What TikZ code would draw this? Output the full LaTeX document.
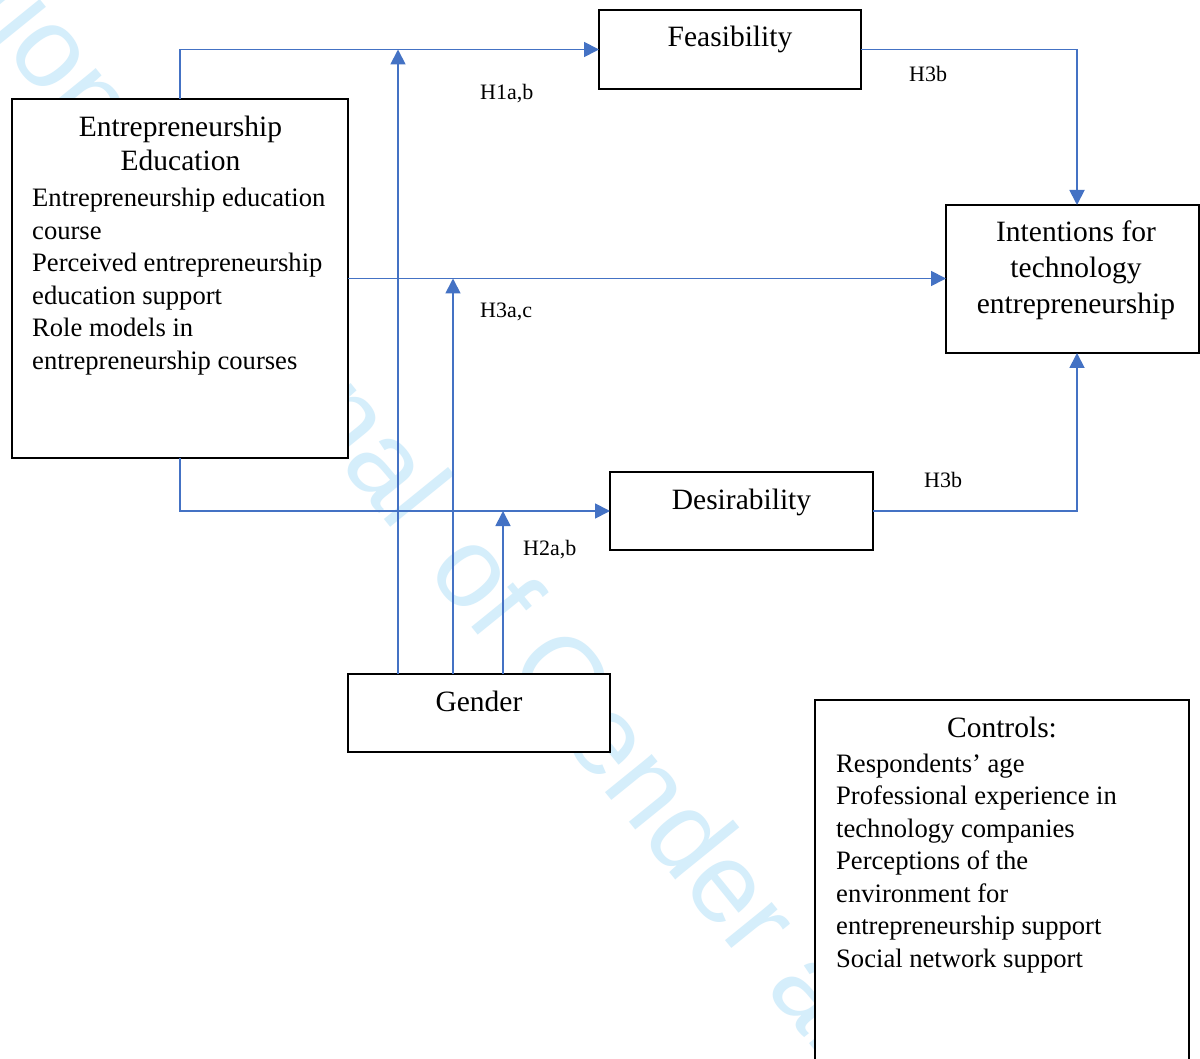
\documentclass[tikz,border=0pt]{standalone}
\usepackage{fontspec}
\setmainfont{Liberation Serif}
\newfontfamily\wmfont{Liberation Sans}
\usetikzlibrary{arrows.meta}
\definecolor{linkblue}{RGB}{68,114,196}
\definecolor{wmblue}{RGB}{213,238,251}
\tikzset{
  box/.style={draw=black, line width=2.6pt, fill=white, inner sep=0pt, outer sep=0pt},
  link/.style={draw=linkblue, line width=1.8pt, -{Triangle[length=15pt,width=15pt]}},
  ttl/.style={font=\fontsize{29.5}{36}\selectfont, inner sep=0pt, anchor=base},
  body/.style={font=\fontsize{26.6}{32.5}\selectfont, inner sep=0pt, anchor=base west},
  hyp/.style={font=\fontsize{22}{24}\selectfont, inner sep=0pt, anchor=base west},
  wm/.style={font=\wmfont\fontsize{114}{114}\selectfont, text=wmblue, inner sep=0pt, rotate=-51}
}
\begin{document}
\begin{tikzpicture}[x=1pt,y=-1pt]
\useasboundingbox (0,0) rectangle (1200,1059);
\clip (0,0) rectangle (1200,1059);
\fill[white] (0,0) rectangle (1200,1059);

% watermark
\node[wm, anchor=base west] (wmb) at (425.1,570.0) {of Gender and Entrepreneurship};
\node[wm, anchor=base east] (wma) at (395.8,533.7) {International Journal};

% boxes
\node[box, minimum width=336pt, minimum height=359pt] (ee) at (180,278.5) {};
\node[box, minimum width=262pt, minimum height=79pt] (feas) at (730,49.5) {};
\node[box, minimum width=253pt, minimum height=148pt] (int) at (1072.5,279) {};
\node[box, minimum width=263pt, minimum height=78pt] (des) at (741.5,511) {};
\node[box, minimum width=262pt, minimum height=78pt] (gen) at (479,713) {};
\node[box, minimum width=374pt, minimum height=375pt] (ctrl) at (1002,887.5) {};

% helper coordinates
\coordinate (g1) at (398,713);
\coordinate (g2) at (453,713);
\coordinate (g3) at (503,713);
\coordinate (ix) at (1077,279);

% connectors
\draw[link] (ee.north) |- (feas.west);
\draw[link] (ee.east) -- (ee.east -| int.west);
\draw[link] (ee.south) |- (des.west);
\draw[link] (g1 |- gen.north) -- (g1 |- feas.west);
\draw[link] (g2 |- gen.north) -- (g2 |- ee.east);
\draw[link] (g3 |- gen.north) -- (g3 |- des.west);
\draw[link] (feas.east) -| (ix |- int.north);
\draw[link] (des.east) -| (ix |- int.south);

% texts
\node[ttl] (eet1) at (180.5,137) {Entrepreneurship};
\node[ttl] (eet2) at (180.5,171) {Education};
\foreach \t [count=\i] in {Entrepreneurship education, course, Perceived entrepreneurship, education support, Role models in, entrepreneurship courses}
  \node[body] (eeb\i) at (32,{206.5+32.6*(\i-1)}) {\t};

\node[ttl] (feast) at (730,47) {Feasibility};
\node[ttl] (intt1) at (1076,242) {Intentions for};
\node[ttl] (intt2) at (1076,278) {technology};
\node[ttl] (intt3) at (1076,314) {entrepreneurship};
\node[ttl] (dest) at (741.5,509) {Desirability};
\node[ttl] (gent) at (479,711) {Gender};
\node[ttl] (ctrlt) at (1002,737) {Controls:};
\foreach \t [count=\i] in {Respondents’ age, Professional experience in, technology companies, Perceptions of the, environment for, entrepreneurship support, Social network support}
  \node[body] (ctb\i) at (836,{772+32.5*(\i-1)}) {\t};

\node[hyp] (h1) at (480,100) {H1a,b};
\node[hyp] (h3b1) at (909,82) {H3b};
\node[hyp] (h3ac) at (480,318) {H3a,c};
\node[hyp] (h2) at (523,555) {H2a,b};
\node[hyp] (h3b2) at (924,487) {H3b};
\end{tikzpicture}
\end{document}
